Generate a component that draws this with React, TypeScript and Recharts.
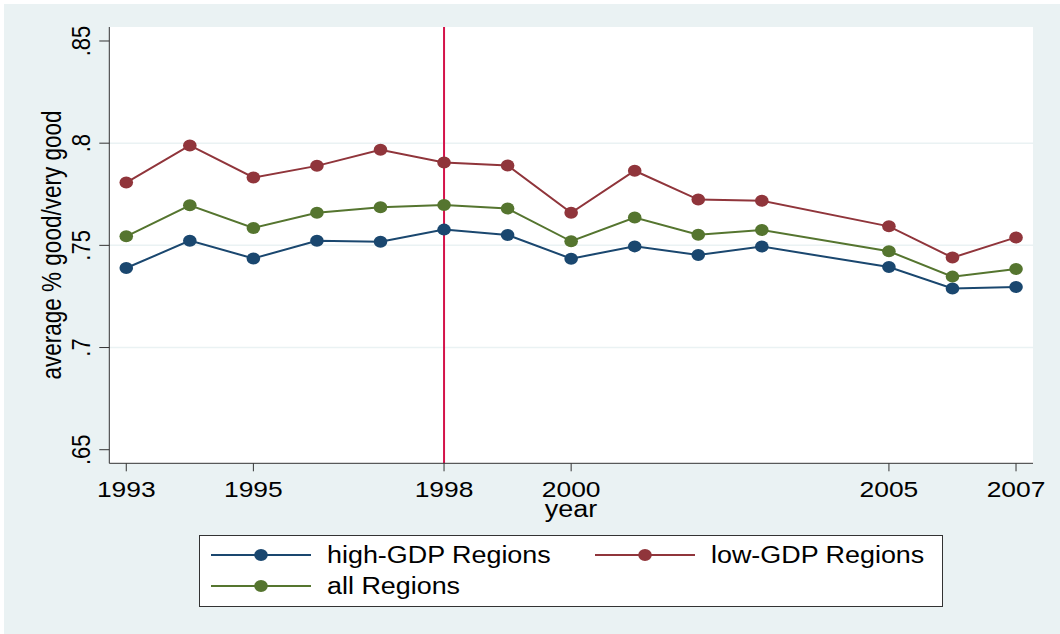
import React from 'react';
import { LineChart, Line, XAxis, YAxis, CartesianGrid, ReferenceLine, Legend } from 'recharts';

// Stata s2color palette
const COLORS = {
  page: '#FFFFFF',
  region: '#EAF2F3',
  plot: '#FFFFFF',
  grid: '#EAF2F3',
  axis: '#333333',
  high: '#1A476F',
  low: '#90353B',
  all: '#55752F',
  marker: '#D4134A',
};

const FONT = '"Liberation Sans", Arial, sans-serif';
const STRETCH = 1.2;

const YEARS = [1993, 1994, 1995, 1996, 1997, 1998, 1999, 2000, 2001, 2002, 2003, 2005, 2006, 2007];
const HIGH_GDP = [0.7389, 0.7523, 0.7436, 0.7522, 0.7518, 0.7577, 0.7551, 0.7435, 0.7495, 0.7453, 0.7494, 0.7394, 0.7289, 0.7296];
const LOW_GDP = [0.7807, 0.7989, 0.7832, 0.7889, 0.7968, 0.7905, 0.7891, 0.7659, 0.7865, 0.7724, 0.7718, 0.7593, 0.744, 0.7539];
const ALL_REGIONS = [0.7544, 0.7696, 0.7585, 0.7659, 0.7686, 0.7698, 0.768, 0.752, 0.7636, 0.7552, 0.7575, 0.7471, 0.7347, 0.7384];

const X_TICKS = [1993, 1995, 1998, 2000, 2005, 2007];
const Y_TICKS = [0.65, 0.7, 0.75, 0.8, 0.85];
const GRID_VALUES = [0.7, 0.75, 0.8];
const REFERENCE_YEAR = 1998;

const SERIES = [
  { key: 'high', name: 'high-GDP Regions', color: COLORS.high },
  { key: 'low', name: 'low-GDP Regions', color: COLORS.low },
  { key: 'all', name: 'all Regions', color: COLORS.all },
];

const data = YEARS.map((year, i) => ({
  year,
  high: HIGH_GDP[i],
  low: LOW_GDP[i],
  all: ALL_REGIONS[i],
}));

const fmtY = (v: number) => String(Number(v.toFixed(2))).replace(/^0/, '');

const XTick = ({ x, y, payload }: any) => (
  <g transform={`translate(${x},${y + 25.5}) scale(${STRETCH},1)`}>
    <text textAnchor="middle" fontSize={22} fill="#000" fontFamily={FONT}>
      {payload.value}
    </text>
  </g>
);

const YTick = ({ y, payload }: any) => (
  <g transform={`translate(89.5,${y}) scale(${STRETCH},1) rotate(-90)`}>
    <text textAnchor="middle" fontSize={22} fill="#000" fontFamily={FONT}>
      {fmtY(payload.value)}
    </text>
  </g>
);

const makeDot = (color: string) => (props: any) => {
  const { cx, cy, index } = props;
  if (cx == null || cy == null) return <g key={index} />;
  return <ellipse key={index} cx={cx} cy={cy} rx={6.8} ry={6} fill={color} />;
};

const LegendBox = () => {
  const rows = [
    { s: SERIES[0], x: 0, y: 20 },
    { s: SERIES[1], x: 384, y: 20 },
    { s: SERIES[2], x: 0, y: 51 },
  ];
  return (
    <svg width={744} height={72} style={{ display: 'block' }}>
      <rect x={0.5} y={0.5} width={743} height={71} fill="#fff" stroke={COLORS.axis} />
      {rows.map(({ s, x, y }) => (
        <g key={s.key}>
          <line x1={x + 12} x2={x + 112} y1={y} y2={y} stroke={s.color} strokeWidth={2} />
          <ellipse cx={x + 62} cy={y} rx={6.8} ry={6} fill={s.color} />
          <g transform={`translate(${x + 128},${y + 8}) scale(1.17,1)`}>
            <text fontSize={23} fill="#000" fontFamily={FONT}>{s.name}</text>
          </g>
        </g>
      ))}
    </svg>
  );
};

export default function App() {
  return (
    <div style={{ position: 'relative', width: 1060, height: 634, background: COLORS.page }}>
      <style>{'body{margin:0}'}</style>
      <div style={{ position: 'absolute', left: 4, top: 4, width: 1056, height: 630, background: COLORS.region }} />
      <div style={{ position: 'absolute', left: 0, top: 0 }}>
        <LineChart width={1060} height={634} data={data} margin={{ top: 27, right: 27, left: 0, bottom: 27 }}>
          <CartesianGrid fill={COLORS.plot} horizontal={false} vertical={false} />
          {GRID_VALUES.map((v) => (
            <ReferenceLine key={v} y={v} stroke={COLORS.grid} strokeWidth={1.5} />
          ))}
          <XAxis
            dataKey="year"
            type="number"
            domain={[1992.733, 2007.267]}
            ticks={X_TICKS}
            tick={<XTick />}
            tickSize={8}
            tickMargin={0}
            height={71.7}
            stroke={COLORS.axis}
            allowDataOverflow
            label={{
              content: () => (
                <g transform={`translate(571,517) scale(1.17,1)`}>
                  <text textAnchor="middle" fontSize={23} fill="#000" fontFamily={FONT}>year</text>
                </g>
              ),
            }}
          />
          <YAxis
            type="number"
            domain={[0.64335, 0.85685]}
            ticks={Y_TICKS}
            tick={<YTick />}
            tickSize={10}
            width={109.3}
            stroke={COLORS.axis}
            allowDataOverflow
            label={{
              content: () => (
                <g transform={`translate(61,245) scale(${STRETCH},1) rotate(-90)`}>
                  <text textAnchor="middle" fontSize={22.5} fill="#000" fontFamily={FONT}>
                    average % good/very good
                  </text>
                </g>
              ),
            }}
          />
          <ReferenceLine x={REFERENCE_YEAR} stroke={COLORS.marker} strokeWidth={2} />
          {SERIES.map((s) => (
            <Line
              key={s.key}
              type="linear"
              dataKey={s.key}
              name={s.name}
              stroke={s.color}
              strokeWidth={2}
              dot={makeDot(s.color)}
              activeDot={false}
              isAnimationActive={false}
            />
          ))}
          <Legend
            verticalAlign="bottom"
            content={<LegendBox />}
            wrapperStyle={{ left: 199, width: 744, bottom: 27 }}
          />
        </LineChart>
      </div>
    </div>
  );
}
